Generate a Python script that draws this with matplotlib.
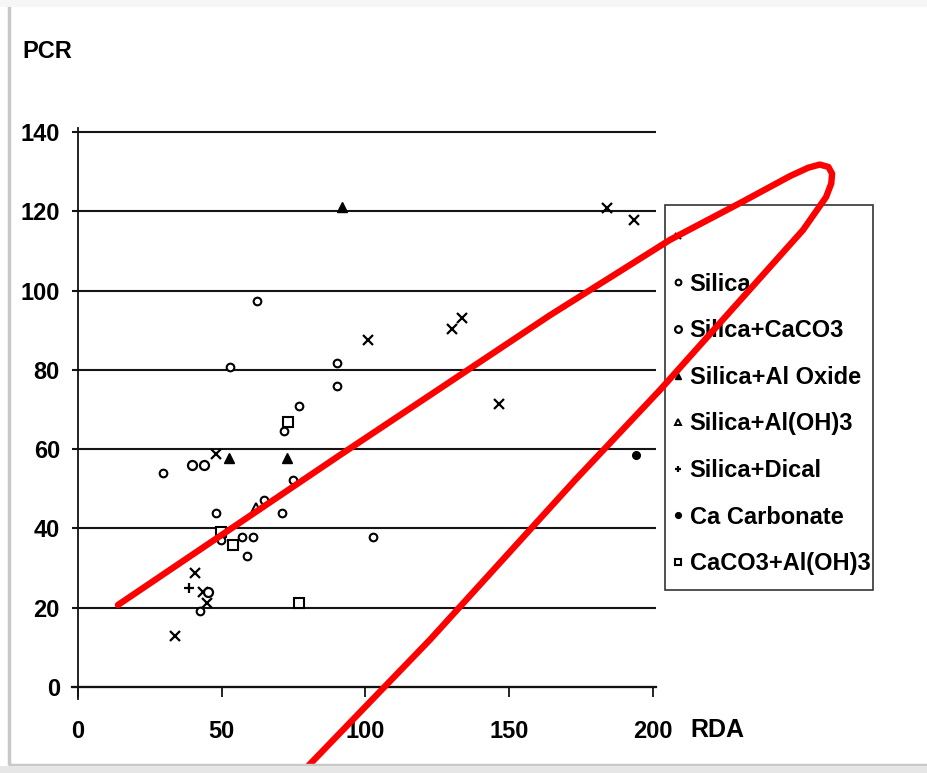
import matplotlib
matplotlib.use('Agg')
import matplotlib.pyplot as plt
from matplotlib.patches import Rectangle

plt.rcParams['font.family'] = ['Liberation Sans', 'DejaVu Sans']
plt.rcParams['font.weight'] = 'bold'

# RDA / PCR values
x_unlabeled_rda = [48, 40.7, 43.5, 44.8, 33.7, 101, 130, 133.6, 146.4, 184, 193.4]
x_unlabeled_pcr = [58.8, 28.8, 24, 21.2, 12.9, 87.5, 90.3, 93, 71.4, 120.8, 117.8]

silica_rda = [62.2, 52.9, 90, 90, 77, 71.6, 74.8, 29.6, 64.7, 71, 48, 57, 61, 58.8, 42.4, 102.6, 49.9]
silica_pcr = [97.4, 80.7, 81.7, 76, 71, 64.6, 52.2, 54, 47.2, 44, 44, 37.8, 37.8, 33, 19.2, 37.8, 37]

silica_caco3_rda = [39.7, 43.8, 45.2]
silica_caco3_pcr = [56, 56, 24]

silica_aloxide_rda = [92, 52.5, 72.7]
silica_aloxide_pcr = [121, 57.8, 57.8]

silica_aloh3_rda = [62]
silica_aloh3_pcr = [45.4]

silica_dical_rda = [38.6]
silica_dical_pcr = [25]

ca_carbonate_rda = [194]
ca_carbonate_pcr = [58.5]

caco3_aloh3_rda = [73, 54, 77, 49.9]
caco3_aloh3_pcr = [66.8, 35.8, 21.2, 39]

x_ticks = [0, 50, 100, 150, 200]
y_ticks = [0, 20, 40, 60, 80, 100, 120, 140]

# hand-drawn red loop over the chart (data coordinates)
loop_rda = [13.9, 91.1, 164.2, 205.9, 230.3, 247.7, 254, 258, 261, 262.3, 262,
            260.2, 252.2, 202.4, 172.9, 122.4, 73.7]
loop_pcr = [20.7, 58.5, 93.8, 112.8, 122.1, 128.9, 131, 131.8, 131.2, 129.5, 127,
            123.6, 115.3, 74.9, 52.2, 11.9, -24.7]

W, H = 928, 773
fig = plt.figure(figsize=(W / 100, H / 100), dpi=100)
fig.patch.set_facecolor('white')

# axes placed so that x 0..200 -> px 78..653, y 0..140 -> px 687..132
x0, x1 = -2, 201
y0, y1 = -3, 141
pxx = lambda v: 78 + v * 2.875
pxy = lambda v: 687 - v * 3.964
left = pxx(x0) / W
right = pxx(x1) / W
bottom = 1 - pxy(y0) / H
top = 1 - pxy(y1) / H
ax = fig.add_axes([left, bottom, right - left, top - bottom])
ax.set_xlim(x0, x1)
ax.set_ylim(y0, y1)

for sp in ['top', 'right']:
    ax.spines[sp].set_visible(False)
ax.spines['left'].set_position(('data', 0))
ax.spines['bottom'].set_position(('data', 0))
ax.spines['left'].set_linewidth(1.3)
ax.spines['bottom'].set_linewidth(1.6)
ax.spines['left'].set_color('#111111')
ax.spines['bottom'].set_color('#111111')

ax.set_yticks(y_ticks)
ax.set_xticks(x_ticks)
ax.tick_params(axis='y', length=0, pad=13, labelsize=17)
ax.tick_params(axis='x', length=7, width=1.2, direction='out', pad=17, labelsize=17)
ax.yaxis.grid(True, color='#151515', linewidth=1.5)
ax.set_axisbelow(True)

ms = 5.5
ax.plot(x_unlabeled_rda, x_unlabeled_pcr, 'x', color='black', ms=ms + 1, mew=1.6, label=' ')
ax.plot(silica_rda, silica_pcr, 'o', mfc='white', mec='black', ms=ms, mew=1.5, label='Silica')
ax.plot(silica_caco3_rda, silica_caco3_pcr, 'o', mfc='white', mec='black', ms=ms + 1, mew=1.6,
        label='Silica+CaCO3')
ax.plot(silica_aloxide_rda, silica_aloxide_pcr, '^', color='black', ms=ms + 1,
        label='Silica+Al Oxide')
ax.plot(silica_aloh3_rda, silica_aloh3_pcr, '^', mfc='white', mec='black', ms=ms, mew=1.4,
        label='Silica+Al(OH)3')
ax.plot(silica_dical_rda, silica_dical_pcr, '+', color='black', ms=ms + 1, mew=1.6,
        label='Silica+Dical')
ax.plot(ca_carbonate_rda, ca_carbonate_pcr, 'o', color='black', ms=ms,
        label='Ca Carbonate')
ax.plot(caco3_aloh3_rda, caco3_aloh3_pcr, 's', mfc='white', mec='black', ms=ms + 1, mew=1.5,
        label='CaCO3+Al(OH)3')

leg = ax.legend(loc='upper left', bbox_to_anchor=(673 / W, 1 - 226 / H),
                bbox_transform=fig.transFigure, frameon=False,
                fontsize=17, handlelength=0.4, handletextpad=0.3, labelspacing=1.0,
                borderpad=0, borderaxespad=0, markerscale=0.75)
for t in leg.get_texts():
    t.set_fontweight('bold')

# legend box as in the scan (asymmetric padding)
ax.add_patch(Rectangle((665 / W, 1 - 590 / H), 208 / W, 385 / H, transform=fig.transFigure,
                       fill=False, edgecolor='#333333', linewidth=1.2, clip_on=False, zorder=6))

fig.text(22 / W, 1 - 52 / H, 'PCR', fontsize=17, fontweight='bold', ha='left', va='center')
fig.text(690 / W, 1 - 730 / H, 'RDA', fontsize=18, fontweight='bold', ha='left', va='center')

ax.plot(loop_rda, loop_pcr, color='#ff0000', lw=4.6, clip_on=False, zorder=20,
        solid_capstyle='round', solid_joinstyle='round')

# scan frame
fig.patches.append(Rectangle((9 / W, 8 / H), 1, 1, transform=fig.transFigure,
                             fill=False, edgecolor='#c8c8c8', linewidth=2.5))
fig.patches.append(Rectangle((0, 0), 1, 7 / H, transform=fig.transFigure,
                             color='#e6e6e6', linewidth=0))
fig.patches.append(Rectangle((0, 1 - 7 / H), 1, 7 / H, transform=fig.transFigure,
                             color='#f6f6f6', linewidth=0))

fig.savefig('out.png', dpi=100)
